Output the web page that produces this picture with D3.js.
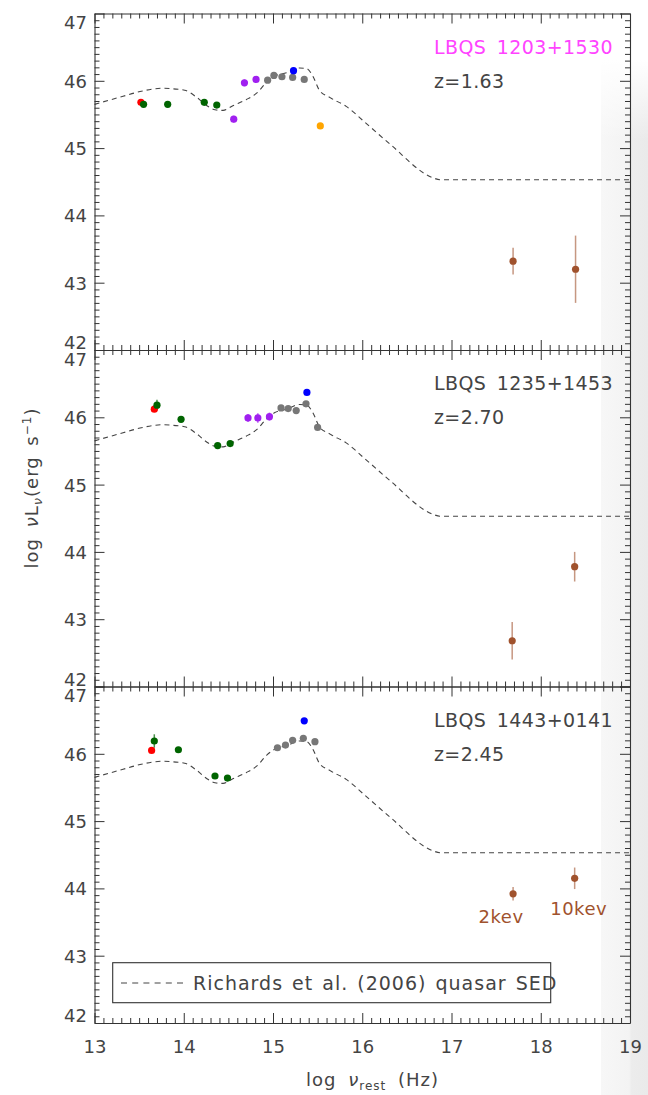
<!DOCTYPE html>
<html><head><meta charset="utf-8">
<script src="https://cdn.jsdelivr.net/npm/d3@7"></script>
<style>
body{margin:0;background:#fff}
svg{display:block}
text{font-family:"DejaVu Sans",sans-serif;fill:#444}
</style>
</head><body>
<svg id="c" width="648" height="1095"></svg>
<script>
// ---------------- data ----------------
const xTicks = [13, 14, 15, 16, 17, 18, 19];
const yTicks = [42, 43, 44, 45, 46, 47];
const sedX = [13.00, 13.32, 13.51, 13.77, 13.88, 14.01, 14.14, 14.26, 14.35, 14.44, 14.55, 14.70, 14.82, 14.93, 15.02, 15.15, 15.30, 15.38, 15.45, 15.52, 15.64, 15.82, 16.05, 16.31, 16.79, 16.87, 19.00];
const sedY = [45.65, 45.77, 45.84, 45.89, 45.88, 45.86, 45.76, 45.63, 45.57, 45.56, 45.63, 45.72, 45.82, 45.98, 46.07, 46.12, 46.19, 46.18, 46.06, 45.86, 45.75, 45.62, 45.36, 45.06, 44.56, 44.53, 44.53];
const quasarNames = ["LBQS 1203+1530", "LBQS 1235+1453", "LBQS 1443+0141"];
const redshifts = ["z=1.63", "z=2.70", "z=2.45"];
const seriesKeys = ["red", "green", "purple", "gray", "blue", "orange", "xray"];
// each point: [series, log nu, log nuLnu, error]
const panel1 = [
  ["red", 13.52, 45.68, 0], ["green", 13.55, 45.65, 0.02], ["green", 13.82, 45.65, 0.02],
  ["green", 14.23, 45.68, 0.02], ["green", 14.37, 45.64, 0.02],
  ["purple", 14.56, 45.43, 0.05], ["purple", 14.68, 45.97, 0.05], ["purple", 14.81, 46.02, 0.04],
  ["gray", 14.94, 46.01, 0], ["gray", 15.01, 46.08, 0], ["gray", 15.10, 46.06, 0],
  ["gray", 15.22, 46.05, 0], ["gray", 15.35, 46.02, 0],
  ["blue", 15.23, 46.15, 0.03], ["orange", 15.53, 45.33, 0.04],
  ["xray", 17.69, 43.32, 0.20], ["xray", 18.39, 43.20, 0.50]
];
const panel2 = [
  ["red", 13.67, 46.12, 0], ["green", 13.70, 46.18, 0.08], ["green", 13.97, 45.97, 0.02],
  ["green", 14.38, 45.58, 0.02], ["green", 14.52, 45.61, 0.02],
  ["purple", 14.72, 45.99, 0.06], ["purple", 14.83, 45.99, 0.07], ["purple", 14.96, 46.01, 0.06],
  ["gray", 15.09, 46.14, 0], ["gray", 15.17, 46.13, 0], ["gray", 15.26, 46.10, 0],
  ["gray", 15.37, 46.20, 0], ["gray", 15.50, 45.85, 0],
  ["blue", 15.38, 46.37, 0.04],
  ["xray", 17.68, 42.68, 0.28], ["xray", 18.38, 43.78, 0.22]
];
const panel3 = [
  ["red", 13.64, 46.05, 0], ["green", 13.67, 46.19, 0.10], ["green", 13.94, 46.06, 0.02],
  ["green", 14.35, 45.67, 0.02], ["green", 14.49, 45.64, 0.02],
  ["gray", 15.05, 46.09, 0], ["gray", 15.14, 46.13, 0], ["gray", 15.22, 46.20, 0],
  ["gray", 15.34, 46.23, 0], ["gray", 15.47, 46.18, 0],
  ["blue", 15.35, 46.49, 0.02],
  ["xray", 17.69, 43.92, 0.10], ["xray", 18.38, 44.15, 0.16]
];
const xrayLabels = ["2kev", "10kev"];
const legendLabel = "Richards et al. (2006) quasar SED";

// ---------------- layout ----------------
const L = 94.5, R = 630, T = 13.5, B = 1023;
const PH = (B - T) / 3;
const svg = d3.select("#c");
const color = d3.scaleOrdinal().domain(seriesKeys)
  .range(["#ff0000", "#006400", "#a020f0", "#777777", "#0000ff", "#ffa500", "#a0522d"]);
const nameColors = ["#ff44ff", "#444", "#444"];
const fmt = d3.format("d");

// scan shading on right edge
const defs = svg.append("defs");
const g1 = defs.append("linearGradient").attr("id", "shade").attr("x1", 0).attr("x2", 1).attr("y1", 0).attr("y2", 0);
g1.append("stop").attr("offset", "0").attr("stop-color", "#f7f7f7");
g1.append("stop").attr("offset", "0.6").attr("stop-color", "#f3f3f3");
g1.append("stop").attr("offset", "0.65").attr("stop-color", "#ececec");
g1.append("stop").attr("offset", "1").attr("stop-color", "#eaeaea");
const g2 = defs.append("linearGradient").attr("id", "fadeTop").attr("x1", 0).attr("x2", 0).attr("y1", 0).attr("y2", 1);
g2.append("stop").attr("offset", "0").attr("stop-color", "#fff").attr("stop-opacity", 1);
g2.append("stop").attr("offset", "1").attr("stop-color", "#fff").attr("stop-opacity", 0);
svg.append("rect").attr("x", 601).attr("y", 60).attr("width", 47).attr("height", 1035).attr("fill", "url(#shade)");
svg.append("rect").attr("x", 601).attr("y", 60).attr("width", 47).attr("height", 80).attr("fill", "url(#fadeTop)");

const x = d3.scaleLinear().domain([13, 19]).range([L, R]);
const minorX = d3.range(130, 191).filter(v => v % 10 !== 0).map(v => v / 10);
const minorY = d3.range(420, 471).filter(v => v % 10 !== 0).map(v => v / 10);

const line = d3.line().curve(d3.curveMonotoneX);
const panels = [panel1, panel2, panel3];

function styleAxis(g) {
  g.selectAll("path").attr("stroke", "#333").attr("stroke-width", 1.1);
  g.selectAll("line").attr("stroke", "#333").attr("stroke-width", 1);
}

panels.forEach((pts, i) => {
  const top = T + i * PH, bot = top + PH;
  const y = d3.scaleLinear().domain([42, 47]).range([bot, top]);
  const g = svg.append("g");

  // SED curve
  g.append("path")
    .attr("d", line(sedX.map((v, k) => [x(v), y(sedY[k])])))
    .attr("fill", "none").attr("stroke", "#444").attr("stroke-width", 1.1)
    .attr("stroke-dasharray", "5,4");

  // error bars
  pts.filter(p => p[3] > 0).forEach(p => {
    g.append("line")
      .attr("x1", x(p[1])).attr("x2", x(p[1]))
      .attr("y1", y(p[2] - p[3])).attr("y2", y(p[2] + p[3]))
      .attr("stroke", color(p[0])).attr("stroke-width", 1.5)
      .attr("stroke-opacity", p[0] === "xray" ? 0.6 : 0.7);
  });
  // points
  seriesKeys.forEach(s => {
    g.selectAll(null).data(pts.filter(p => p[0] === s)).enter().append("circle")
      .attr("cx", p => x(p[1])).attr("cy", p => y(p[2])).attr("r", 3.6)
      .attr("fill", color(s));
  });

  // axes: major and minor, all four sides, inward ticks
  const ax = [
    [d3.axisBottom(x).tickValues(xTicks), `translate(0,${bot})`],
    [d3.axisTop(x).tickValues(xTicks), `translate(0,${top})`],
    [d3.axisLeft(y).tickValues(yTicks), `translate(${L},0)`],
    [d3.axisRight(y).tickValues(yTicks), `translate(${R},0)`]
  ];
  ax.forEach(([a, tr], k) => {
    const isBottomLabels = (k === 0 && i === 2);
    const isLeft = k === 2;
    a.tickSizeInner(-10).tickSizeOuter(0);
    a.tickFormat((isBottomLabels || isLeft) ? fmt : () => "");
    // minor ticks first
    const mk = k < 2 ? (k === 0 ? d3.axisBottom(x) : d3.axisTop(x)).tickValues(minorX)
                     : (k === 2 ? d3.axisLeft(y) : d3.axisRight(y)).tickValues(minorY);
    mk.tickSizeInner(-5).tickSizeOuter(0).tickFormat(() => "");
    const gm = g.append("g").attr("transform", tr).call(mk);
    gm.selectAll(".tick line").attr("stroke", "#333").attr("stroke-width", 1);
    gm.select(".domain").remove();

    const ga = g.append("g").attr("transform", tr).call(a);
    styleAxis(ga);
    if (isLeft) {
      ga.selectAll("text").attr("x", -7.5).attr("font-size", 18).attr("fill", "#444")
        .attr("dy", d => d === 47 ? "0.85em" : d === 42 ? "-0.08em" : "0.36em");
    }
    if (isBottomLabels) {
      ga.selectAll("text").attr("y", 30).attr("dy", "0em").attr("font-size", 18).attr("fill", "#444");
    }
    ga.attr("font-family", null);
  });

  // labels
  g.append("text").attr("x", 434).attr("y", top + 40).attr("font-size", 19)
    .attr("letter-spacing", 0.4).attr("word-spacing", 4)
    .style("fill", nameColors[i]).text(quasarNames[i]);
  g.append("text").attr("x", 434).attr("y", top + 74).attr("font-size", 19)
    .attr("letter-spacing", 0.4).text(redshifts[i]);

  if (i === 2) {
    const xr = pts.filter(p => p[0] === "xray");
    const offs = [[-12, 29], [4, 37]];
    xr.forEach((p, k) => {
      g.append("text").attr("x", x(p[1]) + offs[k][0]).attr("y", y(p[2]) + offs[k][1])
        .attr("text-anchor", "middle").attr("font-size", 18).attr("letter-spacing", 0.5)
        .style("fill", color("xray")).text(xrayLabels[k]);
    });
    // legend
    const lg = g.append("g");
    lg.append("rect").attr("x", 112.7).attr("y", 962.7).attr("width", 438).attr("height", 40)
      .attr("fill", "#fff").attr("stroke", "#333").attr("stroke-width", 1.1);
    lg.append("line").attr("x1", 121).attr("x2", 188).attr("y1", 983).attr("y2", 983)
      .attr("stroke", "#444").attr("stroke-width", 1.1).attr("stroke-dasharray", "6,5.2");
    lg.append("text").attr("x", 193).attr("y", 989.5).attr("font-size", 19)
      .attr("letter-spacing", 1).attr("word-spacing", 2).text(legendLabel);
  }
});

// axis titles
const yt = svg.append("text").attr("transform", "translate(38,488) rotate(-90)")
  .attr("text-anchor", "middle").attr("font-size", 18).attr("letter-spacing", 1).attr("word-spacing", 4);
yt.append("tspan").text("log ");
yt.append("tspan").attr("font-style", "italic").text("ν");
yt.append("tspan").text("L");
yt.append("tspan").attr("font-style", "italic").attr("font-size", 13).attr("dy", 4).text("ν");
yt.append("tspan").attr("dy", -4).text("(erg s");
yt.append("tspan").attr("font-size", 12).attr("dy", -7).text("−1");
yt.append("tspan").attr("dy", 7).text(")");

const xt = svg.append("text").attr("x", 306).attr("y", 1086).attr("font-size", 18)
  .attr("letter-spacing", 1).attr("word-spacing", 5);
xt.append("tspan").text("log ");
xt.append("tspan").attr("font-style", "italic").text("ν");
xt.append("tspan").attr("font-size", 12).attr("dy", 4).text("rest");
xt.append("tspan").attr("dy", -4).text(" (Hz)");
</script>
</body></html>
